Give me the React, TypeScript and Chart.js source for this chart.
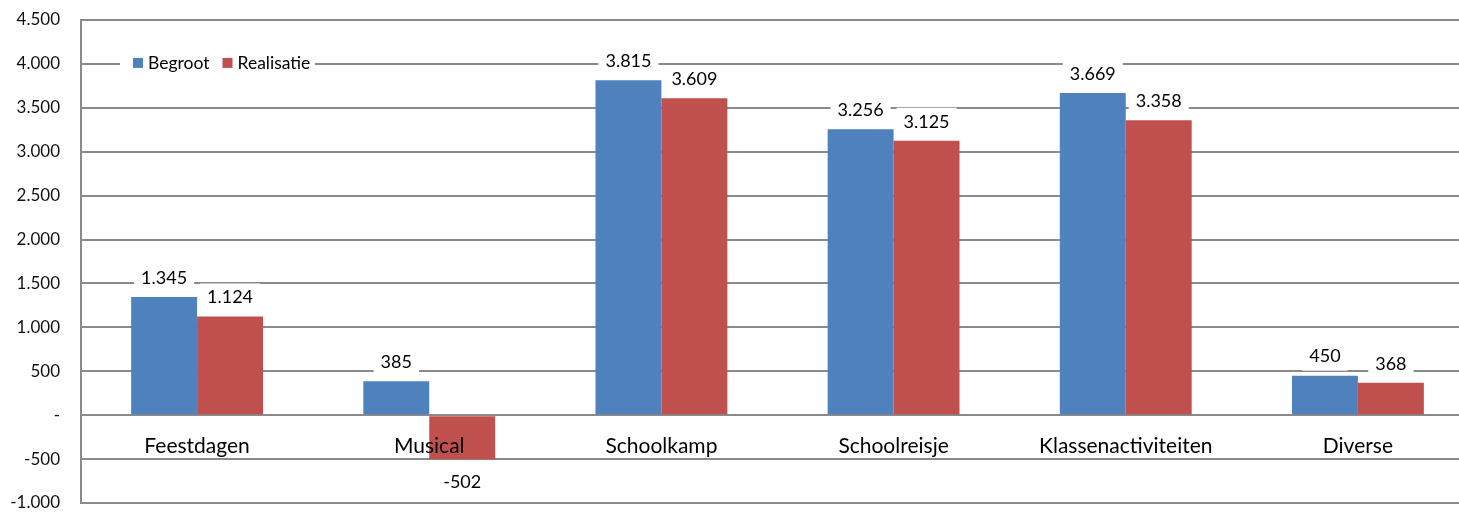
import React, { useEffect, useRef } from "react";
import { Chart, registerables } from "chart.js";

Chart.register(...registerables);

const categories = ["Feestdagen", "Musical", "Schoolkamp", "Schoolreisje", "Klassenactiviteiten", "Diverse"];
const begroot = [1345, 385, 3815, 3256, 3669, 450];
const realisatie = [1124, -502, 3609, 3125, 3358, 368];
const seriesNames = ["Begroot", "Realisatie"];
const seriesColors = ["#4F81BD", "#C0504D"];
const yMin = -1000;
const yMax = 4500;
const yStep = 500;

const FONT = "Lato, 'Open Sans', sans-serif";

function fmt(n: number): string {
  if (n === 0) return "-";
  const s = Math.abs(n).toString();
  const withDots = s.replace(/\B(?=(\d{3})+(?!\d))/g, ".");
  return (n < 0 ? "-" : "") + withDots;
}

const labelsPlugin = {
  id: "excelLabels",
  afterDatasetsDraw(chart: any) {
    const ctx = chart.ctx;
    const x = chart.scales.x;
    const y = chart.scales.y;
    ctx.save();
    ctx.textAlign = "center";
    ctx.textBaseline = "middle";
    // data labels with white boxes
    ctx.font = `18px ${FONT}`;
    chart.data.datasets.forEach((ds: any, di: number) => {
      const meta = chart.getDatasetMeta(di);
      meta.data.forEach((bar: any, i: number) => {
        const v = ds.data[i];
        const txt = fmt(v);
        const cy = v >= 0 ? bar.y - 19 : bar.y + 23;
        const w = ctx.measureText(txt).width + 14;
        ctx.fillStyle = "#fff";
        ctx.fillRect(bar.x - w / 2, cy - 14, w, 28);
      });
    });
    chart.data.datasets.forEach((ds: any, di: number) => {
      const meta = chart.getDatasetMeta(di);
      meta.data.forEach((bar: any, i: number) => {
        const v = ds.data[i];
        const txt = fmt(v);
        const cy = v >= 0 ? bar.y - 19 : bar.y + 23;
        ctx.fillStyle = "#000";
        ctx.fillText(txt, bar.x, cy);
      });
    });
    // category labels below zero line
    ctx.font = `21px ${FONT}`;
    ctx.fillStyle = "#000";
    const zeroY = y.getPixelForValue(0);
    categories.forEach((c, i) => {
      ctx.fillText(c, x.getPixelForValue(i), zeroY + 31);
    });
    // legend inside plot
    const ly = y.getPixelForValue(4000) - 1;
    let lx = 133;
    ctx.textAlign = "left";
    ctx.font = `17.5px ${FONT}`;
    const parts = seriesNames.map((n) => ctx.measureText(n).width);
    ctx.fillStyle = "#fff";
    ctx.fillRect(120, ly - 12, 195, 24);
    seriesNames.forEach((n, i) => {
      ctx.fillStyle = seriesColors[i];
      ctx.fillRect(lx, ly - 5, 10, 10);
      ctx.fillStyle = "#000";
      ctx.fillText(n, lx + 15, ly);
      lx += 15 + parts[i] + 13;
    });
    ctx.restore();
  },
};

export default function App() {
  const ref = useRef<HTMLCanvasElement | null>(null);
  useEffect(() => {
    document.body.style.margin = "0";
    document.body.style.overflow = "hidden";
    const chart = new Chart(ref.current as HTMLCanvasElement, {
      type: "bar",
      data: {
        labels: categories,
        datasets: [
          { label: seriesNames[0], data: begroot, backgroundColor: seriesColors[0], borderWidth: 0 },
          { label: seriesNames[1], data: realisatie, backgroundColor: seriesColors[1], borderWidth: 0 },
        ],
      },
      options: {
        animation: false,
        responsive: false,
        devicePixelRatio: 1,
        layout: { padding: { top: 20, bottom: 9, left: 0, right: 0 } },
        datasets: { bar: { categoryPercentage: 0.568, barPercentage: 1 } },
        plugins: { legend: { display: false }, tooltip: { enabled: false }, title: { display: false } },
        scales: {
          x: { display: false, grid: { display: false } },
          y: {
            min: yMin,
            max: yMax,
            afterFit: (s: any) => {
              s.width = 81;
              s.paddingTop = 0;
              s.paddingBottom = 0;
            },
            ticks: {
              stepSize: yStep,
              padding: 21,
              color: "#111",
              font: { family: FONT, size: 17 },
              callback: (v: any) => fmt(Number(v)),
            },
            grid: { color: "#8a8a8a", lineWidth: 2, drawTicks: false },
            border: { display: true, color: "#8a8a8a", width: 2 },
          },
        },
      },
      plugins: [labelsPlugin],
    });
    return () => chart.destroy();
  }, []);
  return (
    <div style={{ position: "absolute", left: 0, top: 0, width: 1459, height: 512, overflow: "hidden", background: "#fff" }}>
      <canvas ref={ref} width={1474} height={512} style={{ display: "block" }} />
    </div>
  );
}
